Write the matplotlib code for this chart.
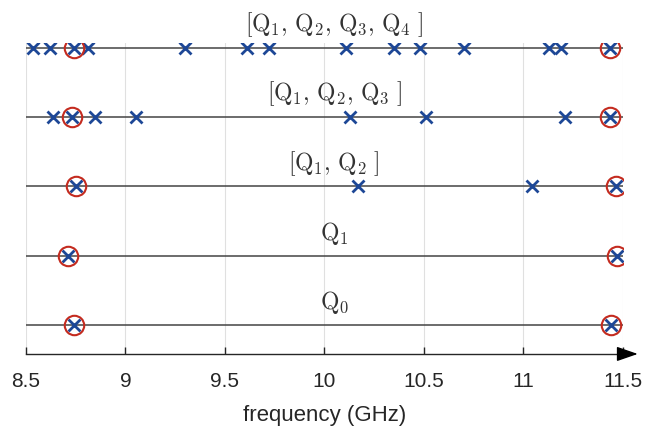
import numpy as np
import matplotlib.pyplot as plt

# ==========================================
# Data
# ==========================================
labels = [r"$\mathrm{Q}_0$", r"$\mathrm{Q}_1$",
          r"$[\mathrm{Q}_1,\,\mathrm{Q}_2\ ]$",
          r"$[\mathrm{Q}_1,\,\mathrm{Q}_2,\,\mathrm{Q}_3\ ]$",
          r"$[\mathrm{Q}_1,\,\mathrm{Q}_2,\,\mathrm{Q}_3,\,\mathrm{Q}_4\ ]$"]

# resonance frequencies (GHz) per row, bottom to top
freqs_q0 = [8.74, 11.44]
freqs_q1 = [8.71, 11.47]
freqs_q12 = [8.75, 10.17, 11.045, 11.465]
freqs_q123 = [8.635, 8.73, 8.845, 9.055, 10.13, 10.51, 11.21, 11.435]
freqs_q1234 = [8.535, 8.62, 8.74, 8.81, 9.30, 9.61, 9.72, 10.11, 10.35,
               10.48, 10.70, 11.13, 11.19, 11.435]

# tracked modes (circled) per row
tracked_q0 = [8.74, 11.44]
tracked_q1 = [8.71, 11.47]
tracked_q12 = [8.75, 11.465]
tracked_q123 = [8.73, 11.435]
tracked_q1234 = [8.74, 11.435]

rows = [freqs_q0, freqs_q1, freqs_q12, freqs_q123, freqs_q1234]
tracked = [tracked_q0, tracked_q1, tracked_q12, tracked_q123, tracked_q1234]

xticks = [8.5, 9, 9.5, 10, 10.5, 11, 11.5]
xtick_labels = ["8.5", "9", "9.5", "10", "10.5", "11", "11.5"]

# ==========================================
# Plot
# ==========================================
plt.rcParams['mathtext.fontset'] = 'cm'
plt.rcParams['font.family'] = ['Liberation Sans', 'DejaVu Sans']

fig = plt.figure(figsize=(6.45, 4.35), dpi=100)
ax = fig.add_axes([0.0403, 0.184, 0.925, 0.715])

label_x = 10.05
for i, (fr, tr) in enumerate(zip(rows, tracked)):
    y = i + 1
    ax.hlines(y, 8.5, 11.5, color='#444444', lw=1.1, zorder=2)
    ax.plot(fr, [y] * len(fr), 'x', color='#1d4796', ms=9, mew=2.0, zorder=4)
    ax.plot(tr, [y] * len(tr), 'o', mfc='none', mec='#c42b1f', ms=14, mew=1.5,
            zorder=5)
    ax.text(label_x, y + 0.14, labels[i], ha='center', va='bottom',
            fontsize=17, color='#333333', clip_on=False)

ax.set_xlim(8.5, 11.5)
ax.set_ylim(0.58, 5.07)
ax.set_yticks([])
ax.set_xticks(xticks)
ax.set_xticklabels(xtick_labels, fontsize=15, color='#262626')
ax.tick_params(axis='x', direction='in', length=5, width=1, color='#262626', pad=12)
ax.grid(True, axis='x', color='#e0e0e0', lw=0.8, zorder=0)
ax.set_axisbelow(True)

for side in ['top', 'right', 'left']:
    ax.spines[side].set_visible(False)
ax.spines['bottom'].set_color('#262626')
ax.spines['bottom'].set_linewidth(1.0)

# arrow at the end of the frequency axis
ax.annotate('', xy=(1.03, 0), xytext=(0.99, 0), xycoords='axes fraction',
            arrowprops=dict(arrowstyle='-|>,head_length=1.3,head_width=0.45',
                            color='black', lw=1.0), annotation_clip=False)

ax.set_xlabel("frequency (GHz)", fontsize=16, color='#262626', labelpad=10)

fig.savefig("out.png", dpi=100)
